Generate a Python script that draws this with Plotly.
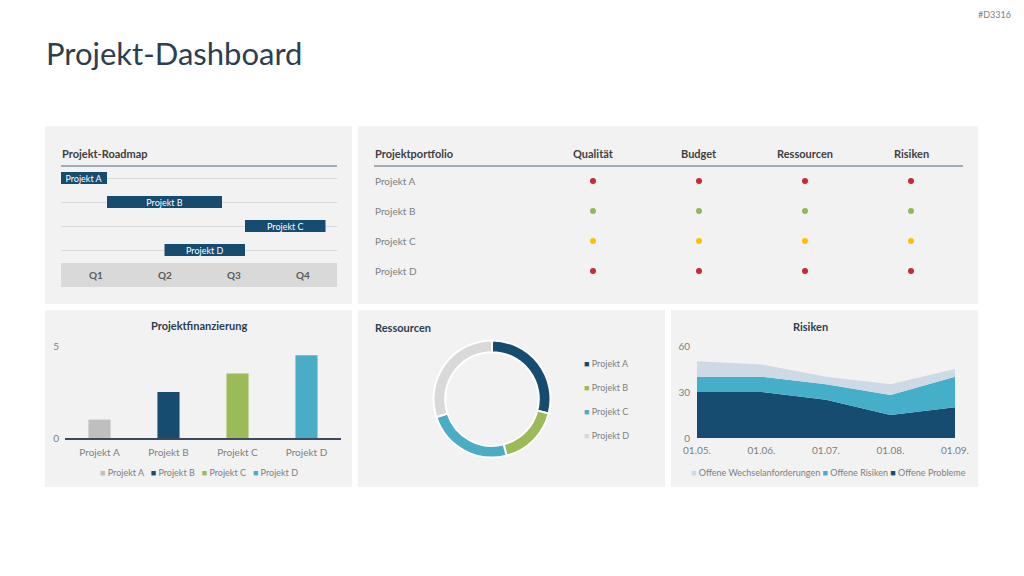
import plotly.graph_objects as go

W, H = 1024, 576
def px(x): return x / W
def py(y): return 1 - y / H

FONT = "Lato"
DARK = "#154c70"
GRAY_TXT = "#808080"
HEAD = "#2c3e50"

# ---------------- data ----------------
projects = ["Projekt A", "Projekt B", "Projekt C", "Projekt D"]

# Roadmap (months from start of year)
road_start = [0, 2, 8, 4.5]
road_end = [2, 7, 11.5, 8]
quarters = ["Q1", "Q2", "Q3", "Q4"]
quarter_mid = [1.5, 4.5, 7.5, 10.5]

# Portfolio status
criteria = ["Qualität", "Budget", "Ressourcen", "Risiken"]
status = {
    "Projekt A": ["rot", "rot", "rot", "rot"],
    "Projekt B": ["grün", "grün", "grün", "grün"],
    "Projekt C": ["gelb", "gelb", "gelb", "gelb"],
    "Projekt D": ["rot", "rot", "rot", "rot"],
}
status_colors = {"rot": "#c62a37", "grün": "#92b957", "gelb": "#ffc000"}

# Financing
financing = [1.0, 2.5, 3.5, 4.5]
proj_colors = ["#bfbfbf", DARK, "#9bbb59", "#4bacc6"]

# Resources
resources = [29, 17, 24, 30]
res_colors = [DARK, "#9bbb59", "#4bacc6", "#d9d9d9"]

# Risks
dates = ["01.05.", "01.06.", "01.07.", "01.08.", "01.09."]
probleme = [30, 30, 25, 15, 20]
risiken = [10, 10, 10, 13, 20]
wechsel = [10, 8, 5, 7, 5]
risk_names = ["Offene Probleme", "Offene Risiken", "Offene Wechselanforderungen"]
risk_colors = [DARK, "#45afc9", "#cdd9e5"]

fig = go.Figure()
shapes = []
ann = []

# panels
for (x0, y0, x1, y1) in [(45, 126, 352, 304), (358, 126, 978, 304),
                         (45, 310, 352, 487), (358, 310, 665, 487), (671, 310, 978, 487)]:
    shapes.append(dict(type="rect", xref="paper", yref="paper", x0=px(x0), x1=px(x1),
                       y0=py(y1), y1=py(y0), fillcolor="#f2f2f2", line=dict(width=0), layer="below"))

# title
ann.append(dict(text="Projekt-Dashboard", x=px(44), y=py(53), xref="paper", yref="paper",
                xanchor="left", yanchor="middle", showarrow=False,
                font=dict(family=FONT, size=31, color=HEAD)))
ann.append(dict(text="#D3316", x=px(1013), y=py(14), xref="paper", yref="paper",
                xanchor="right", yanchor="middle", showarrow=False,
                font=dict(family=FONT, size=9, color=GRAY_TXT)))

# ---------------- Roadmap ----------------
fig.add_trace(go.Bar(
    orientation="h", y=projects, base=road_start,
    x=[e - s for s, e in zip(road_start, road_end)],
    width=0.5, marker=dict(color=DARK, line=dict(width=0)),
    text=projects, textposition="inside", insidetextanchor="middle", constraintext="none",
    textfont=dict(family=FONT, size=9, color="white"),
    xaxis="x", yaxis="y", showlegend=False, hoverinfo="skip"))
ann.append(dict(text="<b>Projekt-Roadmap</b>", x=px(60), y=py(153), xref="paper", yref="paper",
                xanchor="left", yanchor="middle", showarrow=False,
                font=dict(family=FONT, size=11, color="#404040")))
shapes.append(dict(type="line", xref="paper", yref="paper", x0=px(61), x1=px(337),
                   y0=py(166), y1=py(166), line=dict(color="#8a96a3", width=1.5)))
shapes.append(dict(type="rect", xref="paper", yref="paper", x0=px(61), x1=px(337),
                   y0=py(287), y1=py(263), fillcolor="#d9d9d9", line=dict(width=0)))
for q, m in zip(quarters, quarter_mid):
    ann.append(dict(text="<b>" + q + "</b>", x=m, y=py(275), xref="x", yref="paper",
                    xanchor="center", yanchor="middle", showarrow=False,
                    font=dict(family=FONT, size=10, color="#595959")))

# ---------------- Portfolio ----------------
for j, p in enumerate(projects):
    fig.add_trace(go.Scatter(
        x=criteria, y=[p] * len(criteria), mode="markers",
        marker=dict(size=6, color=[status_colors[s] for s in status[p]]),
        xaxis="x2", yaxis="y2", showlegend=False, hoverinfo="skip"))
    ann.append(dict(text=p, x=px(373), y=j, xref="paper", yref="y2",
                    xanchor="left", yanchor="middle", showarrow=False,
                    font=dict(family=FONT, size=10, color=GRAY_TXT)))
ann.append(dict(text="<b>Projektportfolio</b>", x=px(373), y=py(153), xref="paper", yref="paper",
                xanchor="left", yanchor="middle", showarrow=False,
                font=dict(family=FONT, size=11, color="#404040")))
for i, c in enumerate(criteria):
    ann.append(dict(text="<b>" + c + "</b>", x=i, y=py(153), xref="x2", yref="paper",
                    xanchor="center", yanchor="middle", showarrow=False,
                    font=dict(family=FONT, size=11, color="#404040")))
shapes.append(dict(type="line", xref="paper", yref="paper", x0=px(374), x1=px(963),
                   y0=py(166), y1=py(166), line=dict(color="#8a96a3", width=1.5)))

# ---------------- Financing ----------------
fig.add_trace(go.Bar(
    x=projects, y=financing, width=0.32, marker=dict(color=proj_colors, line=dict(width=0)),
    xaxis="x3", yaxis="y3", showlegend=False, hoverinfo="skip"))
ann.append(dict(text="<b>Projektfinanzierung</b>", x=px(199), y=py(325), xref="paper", yref="paper",
                xanchor="center", yanchor="middle", showarrow=False,
                font=dict(family=FONT, size=11, color=HEAD)))
leg = "   ".join(f"<span style='color:{c}'>■</span> {p}" for p, c in zip(projects, proj_colors))
ann.append(dict(text=leg, x=px(199), y=py(472), xref="paper", yref="paper",
                xanchor="center", yanchor="middle", showarrow=False,
                font=dict(family=FONT, size=9, color=GRAY_TXT)))

# ---------------- Resources ----------------
fig.add_trace(go.Pie(
    labels=projects, values=resources, hole=0.8, sort=False, direction="clockwise",
    rotation=0, marker=dict(colors=res_colors, line=dict(color="white", width=2)),
    textinfo="none", hoverinfo="skip", showlegend=False,
    domain=dict(x=[px(433.5), px(550.5)], y=[py(457.5), py(340.5)])))
ann.append(dict(text="<b>Ressourcen</b>", x=px(373), y=py(327), xref="paper", yref="paper",
                xanchor="left", yanchor="middle", showarrow=False,
                font=dict(family=FONT, size=11, color=HEAD)))
for k, (p, c) in enumerate(zip(projects, res_colors)):
    ann.append(dict(text=f"<span style='color:{c}'>■</span> {p}", x=px(582), y=py(363 + 24 * k),
                    xref="paper", yref="paper", xanchor="left", yanchor="middle", showarrow=False,
                    font=dict(family=FONT, size=9, color=GRAY_TXT)))

# ---------------- Risks ----------------
for vals, name, col in zip([probleme, risiken, wechsel], risk_names, risk_colors):
    fig.add_trace(go.Scatter(
        x=dates, y=vals, name=name, mode="lines", stackgroup="risk",
        line=dict(width=0, color=col), fillcolor=col,
        xaxis="x5", yaxis="y5", showlegend=False, hoverinfo="skip"))
ann.append(dict(text="<b>Risiken</b>", x=px(810), y=py(326), xref="paper", yref="paper",
                xanchor="center", yanchor="middle", showarrow=False,
                font=dict(family=FONT, size=11, color=HEAD)))
leg = " ".join(f"<span style='color:{c}'>■</span> {n}" for n, c in
               zip(reversed(risk_names), reversed(risk_colors)))
ann.append(dict(text=leg, x=px(828), y=py(472), xref="paper", yref="paper",
                xanchor="center", yanchor="middle", showarrow=False,
                font=dict(family=FONT, size=9, color=GRAY_TXT)))

hidden = dict(showgrid=False, zeroline=False, showticklabels=False, showline=False, ticks="",
              automargin=False)
fig.update_layout(
    width=W, height=H, margin=dict(l=0, r=0, t=0, b=0, autoexpand=False),
    paper_bgcolor="white", plot_bgcolor="rgba(0,0,0,0)",
    font=dict(family=FONT, color=GRAY_TXT), barmode="overlay", showlegend=False,
    xaxis=dict(domain=[px(61), px(337)], range=[0, 12], anchor="y", **hidden),
    yaxis=dict(domain=[py(262), py(166)], type="category", categoryarray=projects,
               range=[3.5, -0.5], anchor="x", showgrid=True, gridcolor="#d9d9d9", gridwidth=1,
               zeroline=False, showticklabels=False, ticks="", automargin=False),
    xaxis2=dict(domain=[px(540), px(964)], type="category", categoryarray=criteria,
                range=[-0.5, 3.5], anchor="y2", **hidden),
    yaxis2=dict(domain=[py(286), py(166)], type="category", categoryarray=projects,
                range=[3.5, -0.5], anchor="x2", **hidden),
    xaxis3=dict(domain=[px(65), px(341)], type="category", anchor="y3", range=[-0.5, 3.5],
                showline=True, linecolor="#3b4b5e", linewidth=1.5, ticks="", showgrid=False,
                zeroline=False, automargin=False, ticklabelstandoff=4,
                tickfont=dict(family=FONT, size=10, color=GRAY_TXT)),
    yaxis3=dict(domain=[py(438), py(346)], range=[0, 5], tickvals=[0, 5], anchor="x3",
                showgrid=False, zeroline=False, showline=False, ticks="", automargin=False,
                ticklabelstandoff=5,
                tickfont=dict(family=FONT, size=10, color=GRAY_TXT)),
    xaxis5=dict(domain=[px(697), px(955)], type="category", anchor="y5", range=[0, 4],
                showline=False, ticks="", showgrid=False, zeroline=False, automargin=False,
                ticklabelstandoff=5,
                tickfont=dict(family=FONT, size=10, color=GRAY_TXT)),
    yaxis5=dict(domain=[py(438), py(346)], range=[0, 60], tickvals=[0, 30, 60], anchor="x5",
                showgrid=False, zeroline=False, showline=False, ticks="", automargin=False,
                ticklabelstandoff=6,
                tickfont=dict(family=FONT, size=10, color=GRAY_TXT)),
    shapes=shapes, annotations=ann,
)
fig.write_html("out.html")
